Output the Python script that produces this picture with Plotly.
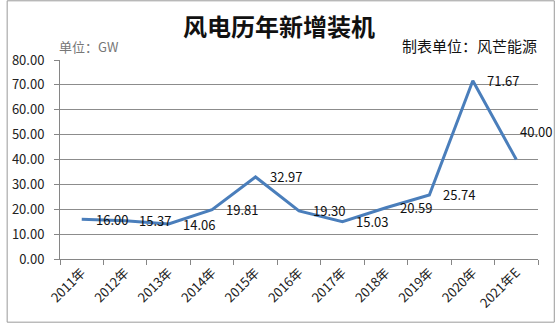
import plotly.graph_objects as go

# Annual new wind power installations (GW)
years = ["2011年", "2012年", "2013年", "2014年", "2015年", "2016年",
         "2017年", "2018年", "2019年", "2020年", "2021年E"]
capacity = [16.00, 15.37, 14.06, 19.81, 32.97, 19.30, 15.03, 20.59, 25.74, 71.67, 40.00]
y_ticks = [0, 10, 20, 30, 40, 50, 60, 70, 80]

W, H = 555, 324
ML, MR, MT, MB = 54, 17, 60, 64
PW, PH = W - ML - MR, H - MT - MB


def px_x(x):
    return (x - ML) / PW


def px_y(y):
    return (H - MB - y) / PH


font_cjk = "Noto Sans CJK SC, Microsoft YaHei, sans-serif"

fig = go.Figure()
fig.add_trace(go.Scatter(
    x=years, y=capacity,
    mode="lines",
    line=dict(color="#4A7EBB", width=3),
    hoverinfo="skip",
))

# value labels to the right of each point; the final (estimate) one sits above
labels = []
for i, (yr, v) in enumerate(zip(years, capacity)):
    last = i == len(years) - 1
    labels.append(dict(
        x=yr, y=v, xref="x", yref="y",
        text=f"{v:.2f}", showarrow=False,
        xanchor="left", yanchor="middle",
        xshift=2 if last else 12, yshift=28 if last else 0,
        font=dict(family=font_cjk, size=13, color="#111111"),
    ))

fig.update_layout(
    width=W, height=H,
    margin=dict(l=ML, r=MR, t=MT, b=MB),
    paper_bgcolor="white", plot_bgcolor="white",
    showlegend=False,
    font=dict(family=font_cjk, size=12, color="#222222"),
    xaxis=dict(
        type="category",
        range=[-0.5, len(years) - 0.5],
        tickangle=-45,
        tickson="boundaries",
        ticks="outside", ticklen=5, tickcolor="#868686",
        showline=True, linecolor="#868686", linewidth=1,
        showgrid=False,
        tickfont=dict(family=font_cjk, size=13, color="#222222"),
    ),
    yaxis=dict(
        range=[0, 80],
        tickvals=y_ticks,
        tickformat=".2f",
        ticks="outside", ticklen=5, tickcolor="#868686",
        ticklabelstandoff=7,
        showline=True, linecolor="#868686", linewidth=1,
        showgrid=True, gridcolor="#8C8C8C", gridwidth=1,
        zeroline=False,
        tickfont=dict(family=font_cjk, size=13, color="#222222"),
    ),
    shapes=[dict(
        type="rect", xref="paper", yref="paper",
        x0=px_x(0.5), x1=px_x(W - 0.5), y0=px_y(H - 0.5), y1=px_y(0.5),
        line=dict(color="#9A9A9A", width=1), fillcolor="rgba(0,0,0,0)",
        layer="below",
    )],
    annotations=labels + [
        dict(text="<b>风电历年新增装机</b>", xref="paper", yref="paper",
             x=px_x(276), y=px_y(25), showarrow=False,
             xanchor="center", yanchor="middle",
             font=dict(family=font_cjk, size=24, color="#111111")),
        dict(text="单位：GW", xref="paper", yref="paper",
             x=px_x(51), y=px_y(46), showarrow=False,
             xanchor="left", yanchor="middle",
             font=dict(family=font_cjk, size=13, color="#777777")),
        dict(text="制表单位：风芒能源", xref="paper", yref="paper",
             x=px_x(539), y=px_y(45), showarrow=False,
             xanchor="right", yanchor="middle",
             font=dict(family=font_cjk, size=15, color="#111111")),
    ],
)

fig.write_html("out.html")
